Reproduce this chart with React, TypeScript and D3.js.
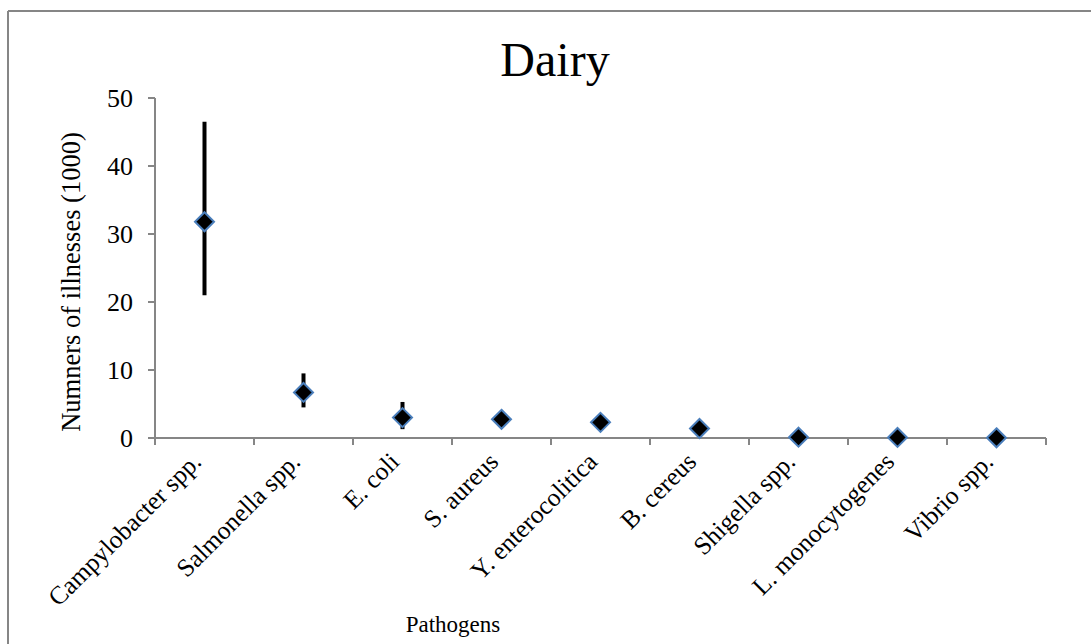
import React from "react";
import * as d3 from "d3";

// Estimated illnesses (thousands) attributed to dairy, by pathogen
const pathogens = [
  "Campylobacter spp.",
  "Salmonella spp.",
  "E. coli",
  "S. aureus",
  "Y. enterocolitica",
  "B. cereus",
  "Shigella spp.",
  "L. monocytogenes",
  "Vibrio spp.",
];
const meanValues = [31.8, 6.7, 3.0, 2.75, 2.3, 1.4, 0.12, 0.08, 0.03];
const lowerValues = [21.0, 4.5, 1.3, null, null, null, null, null, null];
const upperValues = [46.5, 9.5, 5.3, null, null, null, null, null, null];
const yTicks = [0, 10, 20, 30, 40, 50];

const W = 1091;
const H = 644;
const FONT = "'Liberation Serif', 'DejaVu Serif', serif";
const AXIS = "#868686";

export default function App() {
  const x = d3.scaleBand<string>().domain(pathogens).range([155, 1046]).padding(0);
  const y = d3.scaleLinear().domain([0, 50]).range([438, 98]);
  const cx = (p: string) => (x(p) as number) + x.bandwidth() / 2;
  const boundaries = d3.range(pathogens.length + 1).map((i) => 155 + i * x.step());
  const r = 9.5;
  const txt = { fontFamily: FONT };

  return (
    <svg
      width={W}
      height={H}
      style={{ position: "absolute", left: 0, top: 0, background: "#fff", fontFamily: FONT }}
    >
      {/* chart area frame */}
      <line x1={8} y1={11} x2={W} y2={11} stroke={AXIS} strokeWidth={2} />
      <line x1={8} y1={11} x2={8} y2={H} stroke={AXIS} strokeWidth={2} />

      <text x={555} y={76} textAnchor="middle" fontSize={48} fill="#000" style={txt}>
        Dairy
      </text>

      {/* y axis */}
      <line x1={155} y1={y(0)} x2={155} y2={y(50)} stroke={AXIS} strokeWidth={2} />
      {yTicks.map((t) => (
        <g key={t}>
          <line x1={148} x2={155} y1={y(t)} y2={y(t)} stroke={AXIS} strokeWidth={2} />
          <text x={133} y={y(t)} dy="0.35em" textAnchor="end" fontSize={26} fill="#000" style={txt}>
            {t}
          </text>
        </g>
      ))}
      <text
        transform={`translate(80, 282) rotate(-90)`}
        textAnchor="middle"
        fontSize={26.5}
        fill="#000"
        style={txt}
      >
        Numners of illnesses (1000)
      </text>

      {/* x axis */}
      <line x1={155} x2={1046} y1={y(0)} y2={y(0)} stroke={AXIS} strokeWidth={2} />
      {boundaries.map((b, i) => (
        <line key={i} x1={b} x2={b} y1={y(0)} y2={y(0) + 7} stroke={AXIS} strokeWidth={2} />
      ))}
      {pathogens.map((p) => (
        <text
          key={p}
          transform={`translate(${cx(p) - 8}, 457) rotate(-45)`}
          textAnchor="end"
          dy="0.35em"
          fontSize={25.5}
          fill="#000"
          style={txt}
        >
          {p}
        </text>
      ))}
      <text x={453} y={632} textAnchor="middle" fontSize={23} fill="#000" style={txt}>
        Pathogens
      </text>

      {/* error bars */}
      {pathogens.map((p, i) =>
        lowerValues[i] != null && upperValues[i] != null ? (
          <line
            key={p}
            x1={cx(p)}
            x2={cx(p)}
            y1={y(lowerValues[i] as number)}
            y2={y(upperValues[i] as number)}
            stroke="#000"
            strokeWidth={4}
          />
        ) : null
      )}

      {/* markers */}
      {pathogens.map((p, i) => {
        const px = cx(p);
        const py = y(meanValues[i]);
        return (
          <path
            key={p}
            d={`M${px},${py - r}L${px + r},${py}L${px},${py + r}L${px - r},${py}Z`}
            fill="#000"
            stroke="#4a7ebb"
            strokeWidth={2}
          />
        );
      })}
    </svg>
  );
}
